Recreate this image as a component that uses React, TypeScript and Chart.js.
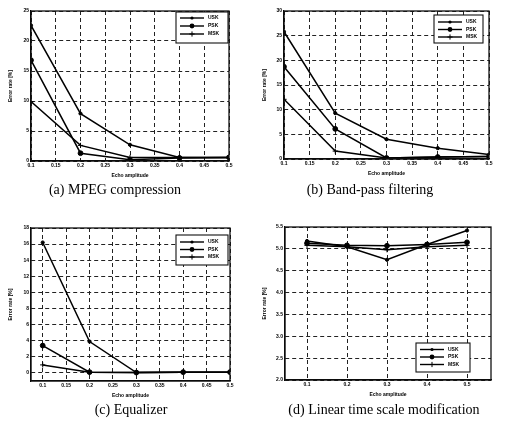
import React, { useEffect, useRef } from 'react';
import { Chart, registerables } from 'chart.js';

Chart.register(...registerables);

// ---------- data ----------
const echoAmplitude = [0.1, 0.2, 0.3, 0.4, 0.5];
const seriesNames = ['USK', 'PSK', 'MSK'];

const mpegUSK = [22.6, 7.9, 2.7, 0.6, 0.6];
const mpegPSK = [16.8, 1.3, 0.2, 0.5, 0.6];
const mpegMSK = [9.9, 2.6, 0.6, 0.6, 0.6];

const bandUSK = [25.8, 9.3, 4.0, 2.2, 0.9];
const bandPSK = [18.7, 6.1, 0.2, 0.4, 0.5];
const bandMSK = [12.1, 1.6, 0.2, 0.4, 0.5];

const eqUSK = [16.2, 3.9, 0.05, 0.1, 0.1];
const eqPSK = [3.4, 0.1, 0.05, 0.1, 0.1];
const eqMSK = [1.0, 0.1, 0.05, 0.1, 0.1];

const tsmUSK = [5.18, 5.05, 4.75, 5.1, 5.42];
const tsmPSK = [5.13, 5.08, 5.07, 5.1, 5.15];
const tsmMSK = [5.08, 5.05, 4.98, 5.05, 5.08];

const xTicksFine = [0.1, 0.15, 0.2, 0.25, 0.3, 0.35, 0.4, 0.45, 0.5];
const xTicksCoarse = [0.1, 0.2, 0.3, 0.4, 0.5];
const yTicksMpeg = [0, 5, 10, 15, 20, 25];
const yTicksBand = [0, 5, 10, 15, 20, 25, 30];
const yTicksEq = [0, 2, 4, 6, 8, 10, 12, 14, 16, 18];
const yTicksTsm = [2, 2.5, 3, 3.5, 4, 4.5, 5, 5.5];

const captions = [
  '(a) MPEG compression',
  '(b) Band-pass filtering',
  '(c) Equalizer',
  '(d) Linear time scale modification',
];

// ---------- layout ----------
type Panel = {
  series: number[][];
  xMin: number; xMax: number; xTicks: number[];
  yMin: number; yMax: number; yTicks: number[]; yDec: number;
  box: [number, number, number, number]; // canvas left, top, width, height (page)
  plot: [number, number, number, number]; // plot L, T, R, B (page)
  xTitleY: number; yTitleX: number;
  legend: { x: number; y: number; w: number; h: number; rowTop: number; gap: number };
  caption: string; capX: number; capY: number;
};

const panels: Panel[] = [
  {
    series: [mpegUSK, mpegPSK, mpegMSK],
    xMin: 0.1, xMax: 0.5, xTicks: xTicksFine,
    yMin: 0, yMax: 25, yTicks: yTicksMpeg, yDec: 0,
    box: [0, 0, 245, 185], plot: [31, 11, 229, 161],
    xTitleY: 176, yTitleX: 11,
    legend: { x: 176, y: 12, w: 52, h: 31, rowTop: 6, gap: 8 },
    caption: captions[0], capX: 115, capY: 190,
  },
  {
    series: [bandUSK, bandPSK, bandMSK],
    xMin: 0.1, xMax: 0.5, xTicks: xTicksFine,
    yMin: 0, yMax: 30, yTicks: yTicksBand, yDec: 0,
    box: [253, 0, 253, 185], plot: [284, 11, 489, 159],
    xTitleY: 174, yTitleX: 265,
    legend: { x: 434, y: 15, w: 49, h: 28, rowTop: 7, gap: 7.5 },
    caption: captions[1], capX: 370, capY: 190,
  },
  {
    series: [eqUSK, eqPSK, eqMSK],
    xMin: 0.075, xMax: 0.5, xTicks: xTicksFine,
    yMin: -1, yMax: 18, yTicks: yTicksEq, yDec: 0,
    box: [0, 215, 245, 190], plot: [31, 228, 230, 381],
    xTitleY: 396, yTitleX: 11,
    legend: { x: 176, y: 235, w: 52, h: 30, rowTop: 7, gap: 7.5 },
    caption: captions[2], capX: 131, capY: 410,
  },
  {
    series: [tsmUSK, tsmPSK, tsmMSK],
    xMin: 0.045, xMax: 0.56, xTicks: xTicksCoarse,
    yMin: 2, yMax: 5.5, yTicks: yTicksTsm, yDec: 1,
    box: [253, 215, 253, 190], plot: [285, 227, 491, 380],
    xTitleY: 395, yTitleX: 265,
    legend: { x: 416, y: 343, w: 54, h: 29, rowTop: 6.5, gap: 7.5 },
    caption: captions[3], capX: 384, capY: 410,
  },
];

const markerStyles = [
  { pointStyle: 'circle', pointRadius: 1.6 },
  { pointStyle: 'circle', pointRadius: 2.4 },
  { pointStyle: 'cross', pointRadius: 2.6 },
];

const tickFont = { family: '"Liberation Sans", Arial, sans-serif', size: 5, weight: 'bold' as const };

function drawMarker(ctx: CanvasRenderingContext2D, style: string, x: number, y: number, r: number) {
  ctx.save();
  ctx.fillStyle = '#000';
  ctx.strokeStyle = '#000';
  ctx.lineWidth = 1;
  if (style === 'cross') {
    ctx.beginPath();
    ctx.moveTo(x - r, y); ctx.lineTo(x + r, y);
    ctx.moveTo(x, y - r); ctx.lineTo(x, y + r);
    ctx.stroke();
  } else {
    ctx.beginPath();
    ctx.arc(x, y, r, 0, Math.PI * 2);
    ctx.fill();
  }
  ctx.restore();
}

const frameLegendPlugin = {
  id: 'frameLegend',
  afterDatasetsDraw(chart: any, _args: any, opts: any) {
    const { ctx, chartArea: a } = chart;
    ctx.save();
    ctx.setLineDash([]);
    ctx.strokeStyle = '#111';
    ctx.lineWidth = 1.3;
    ctx.strokeRect(a.left, a.top, a.right - a.left, a.bottom - a.top);
    const b = opts && opts.box;
    if (b) {
      ctx.fillStyle = '#fff';
      ctx.fillRect(b.x, b.y, b.w, b.h);
      ctx.lineWidth = 1.1;
      ctx.strokeStyle = '#111';
      ctx.strokeRect(b.x, b.y, b.w, b.h);
      chart.data.datasets.forEach((ds: any, i: number) => {
        const y = b.y + b.rowTop + i * b.gap;
        const x1 = b.x + 4;
        const x2 = b.x + 28;
        ctx.strokeStyle = '#000';
        ctx.lineWidth = 1.4;
        ctx.beginPath();
        ctx.moveTo(x1, y);
        ctx.lineTo(x2, y);
        ctx.stroke();
        drawMarker(ctx, ds.pointStyle, (x1 + x2) / 2, y, ds.pointRadius);
        ctx.fillStyle = '#000';
        ctx.font = 'bold 5px "Liberation Sans", Arial, sans-serif';
        ctx.textBaseline = 'middle';
        ctx.textAlign = 'left';
        ctx.fillText(ds.label, x2 + 4, y);
      });
    }
    ctx.restore();
  },
};

function fmt(v: number, dec: number) {
  if (dec > 0) return v.toFixed(dec);
  return String(Math.round(v * 100) / 100);
}

function PanelChart({ p }: { p: Panel }) {
  const ref = useRef<HTMLCanvasElement | null>(null);
  useEffect(() => {
    if (!ref.current) return;
    const [cl, ct, cw, ch] = p.box;
    const [pl, pt, pr, pb] = p.plot;
    const yAxisW = pl - cl;
    const xAxisH = ct + ch - pb;
    const lineH = 6;
    const xPad = ct + ch - p.xTitleY - lineH / 2;
    const yPad = p.yTitleX - cl - lineH / 2;
    const chart = new Chart(ref.current, {
      type: 'line',
      data: {
        datasets: p.series.map((vals, i) => ({
          label: seriesNames[i],
          data: vals.map((v, j) => ({ x: echoAmplitude[j], y: v })),
          borderColor: '#000',
          backgroundColor: '#000',
          borderWidth: 1.5,
          pointStyle: markerStyles[i].pointStyle as any,
          pointRadius: markerStyles[i].pointRadius,
          pointBorderWidth: 1,
          pointBorderColor: '#000',
          pointBackgroundColor: '#000',
          tension: 0,
          fill: false,
        })),
      },
      options: {
        animation: false,
        responsive: false,
        devicePixelRatio: 1,
        layout: { padding: { left: 0, top: pt - ct, right: cl + cw - pr, bottom: 0 } },
        plugins: {
          legend: { display: false },
          tooltip: { enabled: false },
          frameLegend: { box: { ...p.legend, x: p.legend.x - cl, y: p.legend.y - ct } },
        } as any,
        scales: {
          x: {
            type: 'linear',
            min: p.xMin,
            max: p.xMax,
            afterBuildTicks: (s: any) => { s.ticks = p.xTicks.map((v) => ({ value: v })); },
            afterFit: (s: any) => { s.height = xAxisH; },
            ticks: {
              autoSkip: false, maxRotation: 0, minRotation: 0, padding: 2,
              color: '#000', font: tickFont,
              callback: (v: any) => fmt(Number(v), 0),
            },
            grid: { color: '#222', lineWidth: 1, drawTicks: false },
            border: { display: true, color: '#000', width: 1.2, dash: [4, 3] },
            title: {
              display: true, text: 'Echo amplitude', color: '#000', font: tickFont,
              padding: { top: xPad, bottom: xPad },
            },
          },
          y: {
            type: 'linear',
            min: p.yMin,
            max: p.yMax,
            afterBuildTicks: (s: any) => { s.ticks = p.yTicks.map((v) => ({ value: v })); },
            afterFit: (s: any) => { s.width = yAxisW; },
            ticks: {
              autoSkip: false, padding: 2, color: '#000', font: tickFont,
              callback: (v: any) => fmt(Number(v), p.yDec),
            },
            grid: { color: '#222', lineWidth: 1, drawTicks: false },
            border: { display: true, color: '#000', width: 1.2, dash: [4, 3] },
            title: {
              display: true, text: 'Error rate [%]', color: '#000', font: tickFont,
              padding: { top: yPad, bottom: yPad },
            },
          },
        },
      },
      plugins: [frameLegendPlugin],
    });
    return () => chart.destroy();
  }, [p]);
  const [cl, ct, cw, ch] = p.box;
  return (
    <canvas
      ref={ref}
      width={cw}
      height={ch}
      style={{ position: 'absolute', left: cl, top: ct, width: cw, height: ch }}
    />
  );
}

export default function App() {
  return (
    <div style={{ position: 'absolute', left: 0, top: 0, width: 506, height: 432, background: '#fff', overflow: 'hidden' }}>
      {panels.map((p, i) => (
        <React.Fragment key={i}>
          <PanelChart p={p} />
          <div
            style={{
              position: 'absolute',
              left: p.capX - 150,
              width: 300,
              top: p.capY - 9,
              height: 18,
              lineHeight: '18px',
              textAlign: 'center',
              fontFamily: '"Liberation Serif", "Times New Roman", serif',
              fontSize: 14,
              color: '#000',
              whiteSpace: 'nowrap',
            }}
          >
            {p.caption}
          </div>
        </React.Fragment>
      ))}
    </div>
  );
}
